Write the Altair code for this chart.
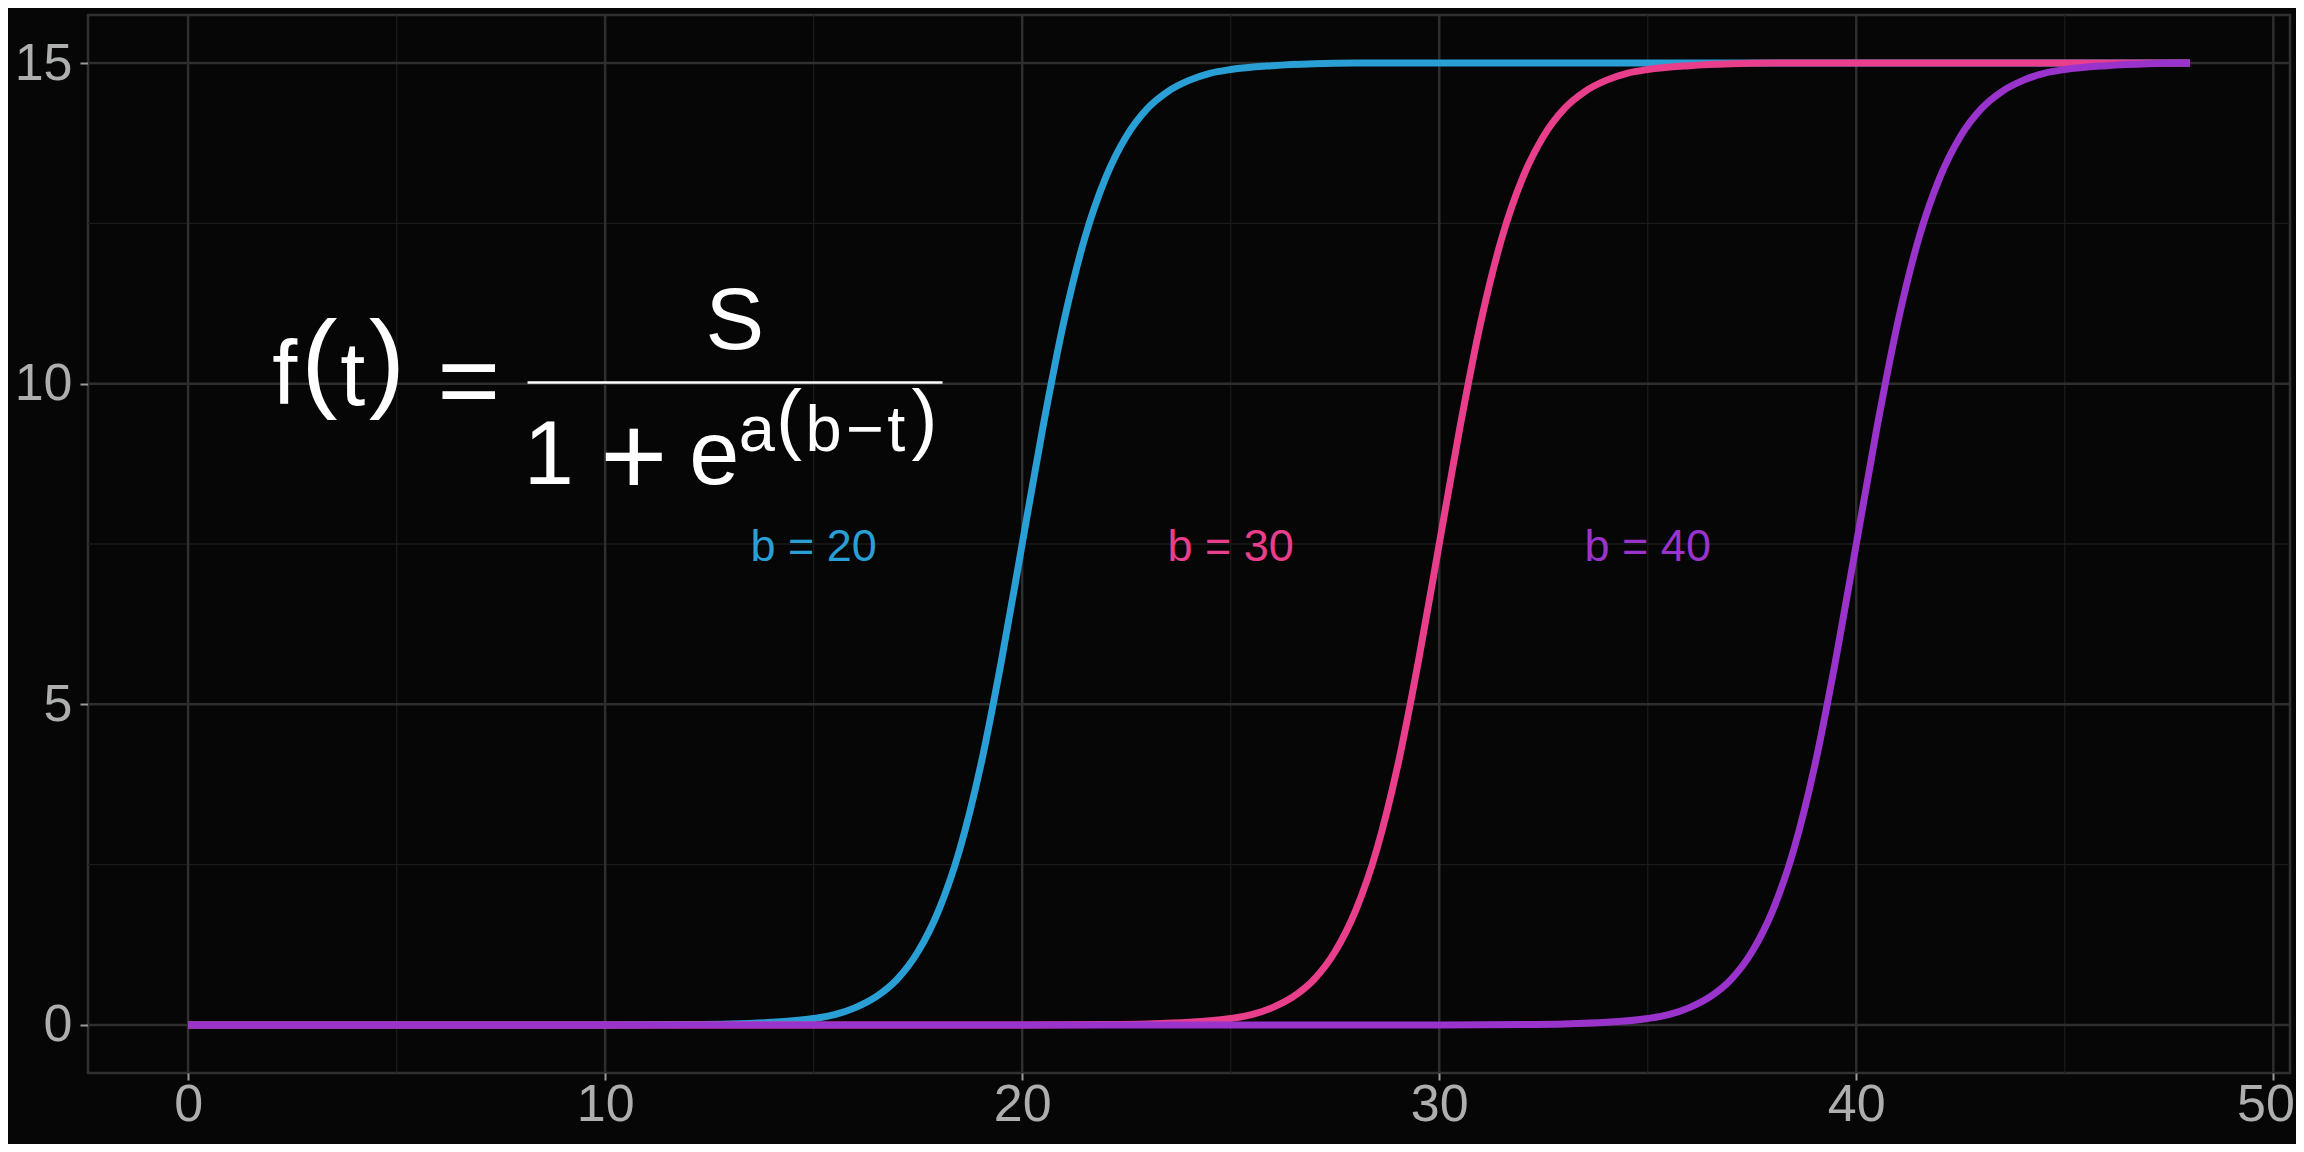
import altair as alt
import pandas as pd

# ---- data ----
series_names = ["b = 20", "b = 30", "b = 40"]
series_colors = ["#2a9fd6", "#e83e8c", "#9933cc"]

t_b20 = [0, 10, 12, 13, 14, 15, 15.5, 16, 16.5, 17, 17.5, 18, 18.5, 19, 19.5, 20,
         20.5, 21, 21.5, 22, 22.5, 23, 23.5, 24, 24.5, 25, 26, 27, 28, 38, 48]
f_b20 = [0, 0, 0.005, 0.014, 0.04, 0.10, 0.16, 0.27, 0.44, 0.71, 1.14, 1.79, 2.73, 4.03, 5.67, 7.50,
         9.33, 10.97, 12.27, 13.21, 13.86, 14.29, 14.56, 14.73, 14.84, 14.90, 14.96, 14.99, 15.0, 15.0, 15.0]

t_b30 = [0, 20, 22, 23, 24, 25, 25.5, 26, 26.5, 27, 27.5, 28, 28.5, 29, 29.5, 30,
         30.5, 31, 31.5, 32, 32.5, 33, 33.5, 34, 34.5, 35, 36, 37, 38, 48]
f_b30 = [0, 0, 0.005, 0.014, 0.04, 0.10, 0.16, 0.27, 0.44, 0.71, 1.14, 1.79, 2.73, 4.03, 5.67, 7.50,
         9.33, 10.97, 12.27, 13.21, 13.86, 14.29, 14.56, 14.73, 14.84, 14.90, 14.96, 14.99, 15.0, 15.0]

t_b40 = [0, 30, 32, 33, 34, 35, 35.5, 36, 36.5, 37, 37.5, 38, 38.5, 39, 39.5, 40,
         40.5, 41, 41.5, 42, 42.5, 43, 43.5, 44, 44.5, 45, 46, 47, 48]
f_b40 = [0, 0, 0.005, 0.014, 0.04, 0.10, 0.16, 0.27, 0.44, 0.71, 1.14, 1.79, 2.73, 4.03, 5.67, 7.50,
         9.33, 10.97, 12.27, 13.21, 13.86, 14.29, 14.56, 14.73, 14.84, 14.90, 14.96, 14.99, 15.0]

x_major = [0, 10, 20, 30, 40, 50]
x_minor = [5, 15, 25, 35, 45]
y_major = [0, 5, 10, 15]
y_minor = [2.5, 7.5, 12.5]

label_x = [15, 25, 35]
label_y = [7.5, 7.5, 7.5]

# formula pieces (text, x, y in data units, font size)
formula_text = ["f", "(", "t", ")", "=", "S", "1", "+", "e", "a", "(", "b", "\u2212", "t", ")"]
formula_x = [2.32, 3.15, 3.95, 4.77, 6.73, 13.11, 8.65, 10.69, 12.62, 13.64, 14.41, 15.24, 16.23, 16.98, 17.66]
formula_y = [9.68, 9.80, 9.66, 9.80, 9.48, 10.54, 8.43, 8.27, 8.43, 8.95, 9.04, 8.95, 8.95, 8.95, 9.04]
formula_size = [90, 109, 90, 109, 108, 88, 90, 115, 90, 65, 78, 65, 65, 65, 78]
bar_x, bar_x2, bar_y = 8.14, 18.09, 10.02

# ---- chart ----
FONT = "Liberation Sans"
xdom = [-2.4, 50.4]
ydom = [-0.75, 15.75]

x_axis = alt.Axis(values=x_major, title=None, grid=False, domain=False, labelFontSize=52,
                  labelFont=FONT, labelColor="#adafae", tickColor="#9a9a9a", tickWidth=2,
                  tickSize=7, labelPadding=-1, labelFlush=20, labelFlushOffset=21, orient="bottom")
y_axis = alt.Axis(values=y_major, title=None, grid=False, domain=False, labelFontSize=52,
                  labelFont=FONT, labelColor="#adafae", tickColor="#9a9a9a", tickWidth=2,
                  tickSize=8, labelPadding=8, orient="left")


def X(field="x"):
    return alt.X(f"{field}:Q", scale=alt.Scale(domain=xdom, nice=False, zero=False), axis=x_axis)


def Y(field="y"):
    return alt.Y(f"{field}:Q", scale=alt.Scale(domain=ydom, nice=False, zero=False), axis=y_axis)


ymin = alt.Chart(pd.DataFrame({"y": y_minor})).mark_rule(color="#1b1b1b", strokeWidth=1.3).encode(y=Y())
xmin = alt.Chart(pd.DataFrame({"x": x_minor})).mark_rule(color="#1b1b1b", strokeWidth=1.3).encode(x=X())
ymaj = alt.Chart(pd.DataFrame({"y": y_major})).mark_rule(color="#2e2e2e", strokeWidth=2.5).encode(y=Y())
xmaj = alt.Chart(pd.DataFrame({"x": x_major})).mark_rule(color="#2e2e2e", strokeWidth=2.5).encode(x=X())

lines = []
for i, (tt, ff) in enumerate([(t_b20, f_b20), (t_b30, f_b30), (t_b40, f_b40)]):
    df = pd.DataFrame({"x": tt, "y": ff})
    lines.append(
        alt.Chart(df).mark_line(color=series_colors[i], strokeWidth=7, interpolate="monotone",
                                strokeCap="butt", clip=True)
        .encode(x=X(), y=Y())
    )

bar = alt.Chart(pd.DataFrame({"x": [bar_x], "x2": [bar_x2], "y": [bar_y]})).mark_rule(
    color="white", strokeWidth=2.5).encode(x=X(), x2="x2:Q", y=Y())

ftext = alt.Chart(pd.DataFrame({"x": formula_x, "y": formula_y, "t": formula_text, "s": formula_size})) \
    .mark_text(color="white", font=FONT, align="center", baseline="alphabetic") \
    .encode(x=X(), y=Y(), text="t:N", size=alt.Size("s:Q", scale=None, legend=None))

labels = alt.Chart(pd.DataFrame({"x": label_x, "y": label_y, "t": series_names, "c": series_colors})) \
    .mark_text(font=FONT, fontSize=45, align="center", baseline="middle", dy=3) \
    .encode(x=X(), y=Y(), text="t:N", color=alt.Color("c:N", scale=None, legend=None))

chart = alt.layer(ymin, xmin, ymaj, xmaj, *lines, bar, ftext, labels).properties(
    width=2202, height=1058,
    padding={"left": 80, "top": 7, "right": 6, "bottom": 71},
    autosize=alt.AutoSizeParams(type="none"),
    background="#060606",
).configure_view(stroke="#303030", strokeWidth=2.5, fill="#060606")

chart.save("out.html", embed_options={"renderer": "svg", "actions": False})
